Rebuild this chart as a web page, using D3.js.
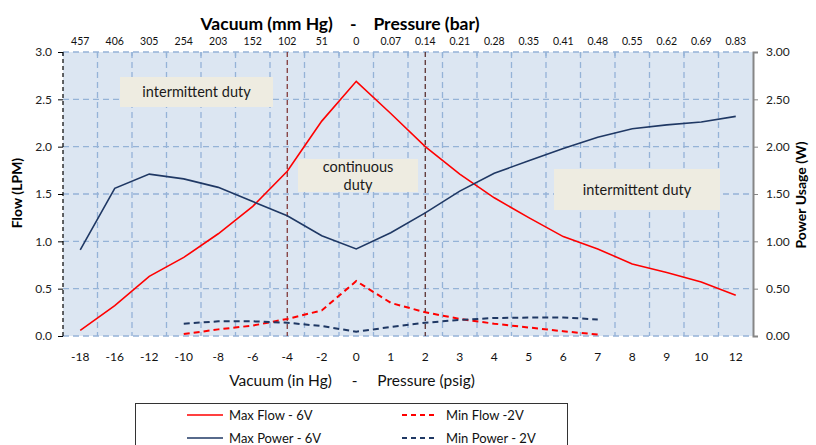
<!DOCTYPE html>
<html>
<head>
<meta charset="utf-8">
<script src="https://cdn.jsdelivr.net/npm/d3@7"></script>
<style>
  body { margin: 0; background: #ffffff; }
  svg { display: block; font-family: Lato, "Open Sans", sans-serif; }
</style>
</head>
<body>
<div id="chart"></div>
<script>
// ============================================================
// Data
// ============================================================
const categories = ['-18', '-16', '-12', '-10', '-8', '-6', '-4', '-2', '0', '1',
                    '2', '3', '4', '5', '6', '7', '8', '9', '10', '12'];
const topLabels = ['457', '406', '305', '254', '203', '152', '102', '51', '0', '0.07',
                   '0.14', '0.21', '0.28', '0.35', '0.41', '0.48', '0.55', '0.62', '0.69', '0.83'];

const maxFlow = [0.06, 0.32, 0.63, 0.83, 1.08, 1.37, 1.74, 2.27, 2.69, 2.35,
                 2.00, 1.71, 1.46, 1.25, 1.05, 0.92, 0.76, 0.67, 0.57, 0.43];
const maxPower = [0.91, 1.56, 1.71, 1.66, 1.57, 1.42, 1.27, 1.06, 0.92, 1.09,
                  1.30, 1.53, 1.72, 1.85, 1.98, 2.10, 2.19, 2.23, 2.26, 2.32];
const minFlow = [null, null, null, 0.02, 0.07, 0.11, 0.18, 0.27, 0.58, 0.35,
                 0.25, 0.18, 0.13, 0.09, 0.05, 0.015, null, null, null, null];
const minPower = [null, null, null, 0.13, 0.155, 0.155, 0.14, 0.105, 0.045, 0.095,
                  0.14, 0.17, 0.19, 0.195, 0.195, 0.175, null, null, null, null];

const flowTicks = [0, 0.5, 1.0, 1.5, 2.0, 2.5, 3.0];
const markerCats = ['-4', '2'];

const series = [
    { name: 'Max Flow - 6V', values: maxFlow, color: '#ff0000', dash: null },
    { name: 'Max Power - 6V', values: maxPower, color: '#1f3864', dash: null },
    { name: 'Min Flow -2V', values: minFlow, color: '#ff0000', dash: '6,4' },
    { name: 'Min Power - 2V', values: minPower, color: '#1f3864', dash: '6,4' }
];

const notes = [
    { lines: ['intermittent duty'], x0: 120, x1: 273, y0: 77, y1: 107 },
    { lines: ['continuous', 'duty'], x0: 298, x1: 418, y0: 159, y1: 192 },
    { lines: ['intermittent duty'], x0: 554, x1: 720, y0: 169, y1: 210 }
];

// ============================================================
// Layout
// ============================================================
const W = 816, H = 445;
const plot = { left: 63, right: 753, top: 52, bottom: 336 };
const GRID = '#95b3d7';

const svg = d3.select('#chart').append('svg')
    .attr('width', W).attr('height', H);

const x = d3.scaleBand().domain(categories).range([plot.left, plot.right]);
const cx = c => x(c) + x.bandwidth() / 2;
const yL = d3.scaleLinear().domain([0, 3]).range([plot.bottom, plot.top]);
const yR = d3.scaleLinear().domain([0, 3]).range([plot.bottom, plot.top]);

// plot background
svg.append('rect')
    .attr('x', plot.left).attr('y', plot.top)
    .attr('width', plot.right - plot.left).attr('height', plot.bottom - plot.top)
    .attr('fill', '#dce6f2');

// horizontal grid
svg.append('g')
    .selectAll('line').data(flowTicks).join('line')
    .attr('x1', plot.left).attr('x2', plot.right)
    .attr('y1', d => yL(d)).attr('y2', d => yL(d))
    .attr('stroke', GRID).attr('stroke-width', 1.3).attr('stroke-dasharray', '6,4');

// vertical grid at category boundaries
svg.append('g')
    .selectAll('line').data(categories.slice(1)).join('line')
    .attr('x1', d => x(d)).attr('x2', d => x(d))
    .attr('y1', plot.top).attr('y2', plot.bottom)
    .attr('stroke', GRID).attr('stroke-width', 1.3).attr('stroke-dasharray', '6,4');

// small tick marks on top edge
svg.append('g')
    .selectAll('line').data(categories).join('line')
    .attr('x1', d => x(d)).attr('x2', d => x(d))
    .attr('y1', plot.top).attr('y2', plot.top + 4)
    .attr('stroke', GRID).attr('stroke-width', 1.3);

// duty-region markers
svg.append('g')
    .selectAll('line').data(markerCats).join('line')
    .attr('x1', d => cx(d)).attr('x2', d => cx(d))
    .attr('y1', plot.top).attr('y2', plot.bottom)
    .attr('stroke', (d, i) => i === 0 ? '#7b2c2c' : '#4f2222')
    .attr('stroke-width', 1.2).attr('stroke-dasharray', '5,3');

// annotation boxes
const noteG = svg.append('g').selectAll('g').data(notes).join('g');
noteG.append('rect')
    .attr('x', d => d.x0).attr('y', d => d.y0)
    .attr('width', d => d.x1 - d.x0).attr('height', d => d.y1 - d.y0)
    .attr('fill', '#eeece1');
noteG.each(function(d) {
    const g = d3.select(this);
    const mid = (d.y0 + d.y1) / 2;
    const lh = 18;
    d.lines.forEach((t, i) => {
        g.append('text')
            .attr('x', (d.x0 + d.x1) / 2)
            .attr('y', mid + (i - (d.lines.length - 1) / 2) * lh)
            .attr('dy', '0.35em')
            .attr('text-anchor', 'middle')
            .attr('font-size', 14.5).attr('fill', '#1a1a1a')
            .text(t);
    });
});

// lines
const line = d3.line()
    .defined(d => d.v !== null)
    .x(d => cx(d.c))
    .y(d => d.s === 'flow' ? yL(d.v) : yR(d.v));

svg.append('g')
    .selectAll('path').data(series).join('path')
    .attr('d', s => line(s.values.map((v, i) => ({
        c: categories[i], v: v, s: s.name.includes('Flow') ? 'flow' : 'power'
    }))))
    .attr('fill', 'none')
    .attr('stroke', s => s.color)
    .attr('stroke-width', s => s.dash ? 2 : 1.6)
    .attr('stroke-dasharray', s => s.dash);

// left axis (dashed black)
svg.append('line')
    .attr('x1', plot.left).attr('x2', plot.left)
    .attr('y1', plot.top).attr('y2', plot.bottom)
    .attr('stroke', '#000').attr('stroke-width', 1.2).attr('stroke-dasharray', '4,3');
const leftAxis = svg.append('g')
    .attr('transform', `translate(${plot.left},0)`)
    .call(d3.axisLeft(yL).tickValues(flowTicks).tickFormat(d3.format('.1f')).tickSize(5));
leftAxis.select('.domain').remove();
leftAxis.selectAll('.tick text').attr('font-size', 12).attr('font-family', 'Lato').attr('fill', '#222').attr('x', -11);

// right axis (solid gray)
const rightAxis = svg.append('g')
    .attr('transform', `translate(${plot.right},0)`)
    .call(d3.axisRight(yR).tickValues(flowTicks).tickFormat(d3.format('.2f')).tickSize(5).tickSizeOuter(5));
rightAxis.select('.domain').attr('stroke', '#868686').attr('stroke-width', 2);
rightAxis.selectAll('.tick line').attr('stroke', '#868686');
rightAxis.selectAll('.tick text').attr('font-size', 12).attr('font-family', 'Lato').attr('fill', '#222').attr('x', 13);

// bottom labels
svg.append('g')
    .selectAll('text').data(categories).join('text')
    .attr('x', d => cx(d)).attr('y', 357)
    .attr('dy', '0.35em').attr('text-anchor', 'middle')
    .attr('font-size', 12).attr('fill', '#111')
    .text(d => d);

// top labels
svg.append('g')
    .selectAll('text').data(topLabels).join('text')
    .attr('x', (d, i) => cx(categories[i])).attr('y', 45)
    .attr('text-anchor', 'middle')
    .attr('font-size', 10.5).attr('fill', '#111')
    .text(d => d);

// axis titles
svg.append('text')
    .attr('x', 340).attr('y', 30).attr('text-anchor', 'middle')
    .attr('font-size', 17.5).attr('font-weight', 'bold').attr('fill', '#000')
    .attr('xml:space', 'preserve')
    .text('Vacuum (mm Hg)    -    Pressure (bar)');

svg.append('text')
    .attr('x', 352).attr('y', 386).attr('text-anchor', 'middle')
    .attr('font-size', 15.5).attr('fill', '#111')
    .attr('xml:space', 'preserve')
    .text('Vacuum (in Hg)     -     Pressure (psig)');

svg.append('text')
    .attr('transform', 'translate(22,193) rotate(-90)')
    .attr('text-anchor', 'middle')
    .attr('font-size', 14).attr('font-weight', 'bold').attr('fill', '#000')
    .text('Flow (LPM)');

svg.append('text')
    .attr('transform', 'translate(806,195) rotate(-90)')
    .attr('text-anchor', 'middle')
    .attr('font-size', 14).attr('font-weight', 'bold').attr('fill', '#000')
    .text('Power Usage (W)');

// legend
const legend = svg.append('g');
legend.append('rect')
    .attr('x', 135.5).attr('y', 403.5).attr('width', 432).attr('height', 60)
    .attr('fill', '#fff').attr('stroke', '#333').attr('stroke-width', 1);
const legendPos = [
    { lx: 187, ty: 415 }, { lx: 187, ty: 438 },
    { lx: 402, ty: 415 }, { lx: 402, ty: 438 }
];
series.forEach((s, i) => {
    const p = legendPos[i];
    legend.append('line')
        .attr('x1', p.lx).attr('x2', p.lx + 36)
        .attr('y1', p.ty).attr('y2', p.ty)
        .attr('stroke', s.color).attr('stroke-width', s.dash ? 1.8 : 1.6)
        .attr('stroke-dasharray', s.dash ? '5,4' : null);
    legend.append('text')
        .attr('x', p.lx + 42 + (s.dash ? 2 : 0)).attr('y', p.ty)
        .attr('dy', '0.35em')
        .attr('font-size', 13).attr('fill', '#111')
        .text(s.name);
});
</script>
</body>
</html>
